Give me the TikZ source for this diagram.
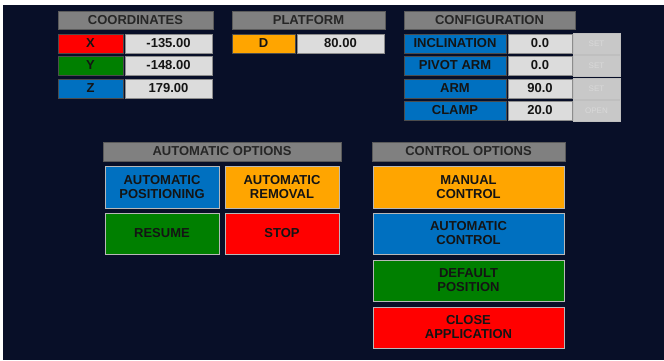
\documentclass[tikz,border=0pt]{standalone}
\usepackage{fontspec}
\setmainfont{Liberation Sans}
\usepackage{xcolor}
\definecolor{panelbg}{HTML}{080F28}
\definecolor{hdrgray}{HTML}{808080}
\definecolor{hdrline}{HTML}{5A5A5A}
\definecolor{valgray}{HTML}{DCDCDC}
\definecolor{setgray}{HTML}{C8C8C8}
\definecolor{txtdark}{HTML}{141414}
\definecolor{uired}{HTML}{FF0000}
\definecolor{uigreen}{HTML}{007F00}
\definecolor{uiblue}{HTML}{0070C0}
\definecolor{uiorange}{HTML}{FFA500}

\begin{document}
\begin{tikzpicture}[
                x=1pt, y=-1pt,
                every node/.style={anchor=north west, inner sep=0pt, outer sep=0pt, align=center, text=txtdark},
                header/.style={fill=hdrgray, draw=hdrline, line width=0.8pt, minimum height=18pt, font=\bfseries\fontsize{13}{14}\selectfont, text=black!85},
                cell/.style={draw=black!70, line width=0.8pt, minimum height=19pt, font=\bfseries\fontsize{13}{14}\selectfont},
                valbox/.style={cell, fill=valgray, draw=black!45},
                setbtn/.style={fill=setgray, draw=black!25, line width=0.8pt, minimum width=47pt, minimum height=21pt, font=\fontsize{8}{9}\selectfont, text=white!85!black},
                button/.style={draw=white!72!black, line width=1pt, font=\bfseries\fontsize{13}{14}\selectfont}
            ]
            \fill[white] (0,0) rectangle (664,360);
            \fill[panelbg] (3,5) rectangle (664,360);

            % coordinates
            \node[header, minimum width=155pt] (coordhdr) at (58,11) {COORDINATES};
            \node[cell, fill=uired, minimum width=65pt] (xlab) at (58,34) {X};
            \node[valbox, minimum width=87pt] (xval) at (125,34) {-135.00};
            \node[cell, fill=uigreen, minimum width=65pt] (ylab) at (58,56) {Y};
            \node[valbox, minimum width=87pt] (yval) at (125,56) {-148.00};
            \node[cell, fill=uiblue, minimum width=65pt] (zlab) at (58,79) {Z};
            \node[valbox, minimum width=87pt] (zval) at (125,79) {179.00};

            % platform
            \node[header, minimum width=153pt] (plathdr) at (232,11) {PLATFORM};
            \node[cell, fill=uiorange, minimum width=63pt] (dlab) at (232,34) {D};
            \node[valbox, minimum width=87pt] (dval) at (297,34) {80.00};

            % configuration
            \node[header, minimum width=171pt] (confhdr) at (404,11) {CONFIGURATION};
            \node[cell, fill=uiblue, minimum width=102pt] (incllab) at (404,34) {INCLINATION};
            \node[valbox, minimum width=64pt] (inclval) at (508,34) {0.0};
            \node[setbtn] (inclset) at (573,33) {SET};
            \node[cell, fill=uiblue, minimum width=102pt] (pivotlab) at (404,56) {PIVOT ARM};
            \node[valbox, minimum width=64pt] (pivotval) at (508,56) {0.0};
            \node[setbtn] (pivotset) at (573,55) {SET};
            \node[cell, fill=uiblue, minimum width=102pt] (armlab) at (404,79) {ARM};
            \node[valbox, minimum width=64pt] (armval) at (508,79) {90.0};
            \node[setbtn] (armset) at (573,78) {SET};
            \node[cell, fill=uiblue, minimum width=102pt] (clamplab) at (404,101) {CLAMP};
            \node[valbox, minimum width=64pt] (clampval) at (508,101) {20.0};
            \node[setbtn] (clampset) at (573,100) {OPEN};

            % automatic options
            \node[header, minimum width=238pt, minimum height=19pt] (autohdr) at (103,142) {AUTOMATIC OPTIONS};
            \node[button, fill=uiblue, minimum width=114pt, minimum height=42pt] (autopos) at (105,166) {AUTOMATIC\\POSITIONING};
            \node[button, fill=uiorange, minimum width=114pt, minimum height=42pt] (autorem) at (225,166) {AUTOMATIC\\REMOVAL};
            \node[button, fill=uigreen, minimum width=114pt, minimum height=41pt] (resume) at (105,213) {RESUME};
            \node[button, fill=uired, minimum width=114pt, minimum height=41pt] (stop) at (225,213) {STOP};

            % control options
            \node[header, minimum width=193pt, minimum height=19pt] (ctrlhdr) at (372,142) {CONTROL OPTIONS};
            \node[button, fill=uiorange, minimum width=191pt, minimum height=42pt] (manual) at (373,166) {MANUAL\\CONTROL};
            \node[button, fill=uiblue, minimum width=191pt, minimum height=41pt] (autoctrl) at (373,213) {AUTOMATIC\\CONTROL};
            \node[button, fill=uigreen, minimum width=191pt, minimum height=41pt] (default) at (373,260) {DEFAULT\\POSITION};
            \node[button, fill=uired, minimum width=191pt, minimum height=41pt] (close) at (373,307) {CLOSE\\APPLICATION};
        \end{tikzpicture}
\end{document}
